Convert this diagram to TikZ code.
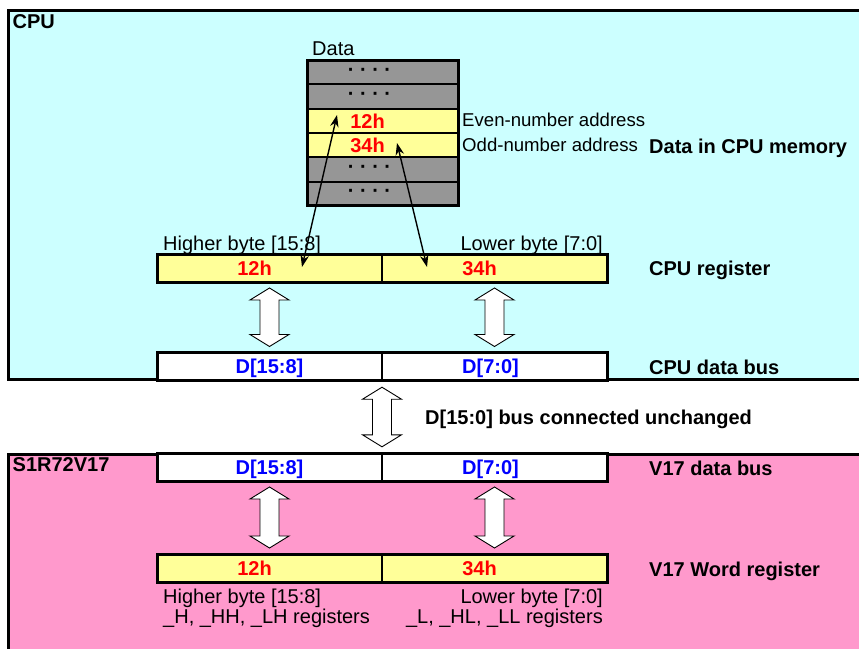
\documentclass[tikz,border=0pt]{standalone}
\usepackage{fontspec}
\setmainfont{Liberation Sans}
\usetikzlibrary{calc,arrows.meta}
\definecolor{cpubg}{HTML}{CCFFFF}
\definecolor{vbg}{HTML}{FF99CC}
\definecolor{regy}{HTML}{FFFF99}
\definecolor{memgray}{HTML}{969696}
\definecolor{valred}{HTML}{FF0000}
\definecolor{busblue}{HTML}{0000FF}
\newcommand{\blkarrow}[4]{% #1 top point, #2 bottom point, #3 gap top, #4 gap bottom
  \path (#1) ++(0,#3) coordinate (bt) (#2) ++(0,-#4) coordinate (bb);
  \draw[blk] (bt) -- ($(bt)+(19.5,12)$) -- ($(bt)+(9.5,12)$) -- ($(bb)+(9.5,-12)$)
    -- ($(bb)+(19.5,-12)$) -- (bb) -- ($(bb)+(-19.5,-12)$) -- ($(bb)+(-9.5,-12)$)
    -- ($(bt)+(-9.5,12)$) -- ($(bt)+(-19.5,12)$) -- cycle;}
\newcommand{\lft}[2]{#1\hspace*{#2pt}}
\begin{document}
\begin{tikzpicture}[x=1pt,y=-1pt,
  frame/.style={line width=3pt},
  cell/.style={draw, line width=1.5pt, minimum width=225pt, minimum height=28pt,
    inner sep=0pt, outer sep=0pt, text depth=0pt, font=\fontsize{20}{24}\selectfont\bfseries},
  memrow/.style={draw, line width=2pt, minimum width=151pt, minimum height=24.33pt,
    inner sep=0pt, outer sep=0pt, text depth=0pt, font=\fontsize{20}{24}\selectfont\bfseries},
  bold/.style={anchor=base west, inner sep=0pt, font=\fontsize{20}{24}\selectfont\bfseries},
  reg/.style={anchor=base west, inner sep=0pt, font=\fontsize{20}{24}\selectfont},
  regr/.style={anchor=base east, inner sep=0pt, font=\fontsize{20}{24}\selectfont},
  small/.style={anchor=base west, inner sep=0pt, font=\fontsize{18.6}{22}\selectfont},
  blk/.style={draw, fill=white, line width=0.9pt, line join=miter},
  ptr/.style={draw, line width=1.4pt, {Stealth[length=12pt,width=8.5pt]}-{Stealth[length=12pt,width=8.5pt]}}
]
\useasboundingbox (0,0) rectangle (859,648);
\clip (0,0) rectangle (859,648);
% backgrounds
\fill[cpubg] (8.5,10.5) rectangle (870,379.5);
\draw[frame] (870,10.5) -- (8.5,10.5) -- (8.5,379.5) -- (870,379.5);
\fill[vbg] (8.5,454) rectangle (870,660);
\draw[frame] (870,454) -- (8.5,454) -- (8.5,660);
\node[bold] (cpu) at (12.5,28.3) {CPU};
\node[bold] (s1r) at (12.5,471.7) {S1R72V17};
% memory
\node[reg] (data) at (312,55) {Data};
\node[memrow, fill=memgray] (m1) at (382.5,72.2) {\lft{· · · ·}{26}};
\node[memrow, fill=memgray] (m2) at (382.5,96.5) {\lft{· · · ·}{26}};
\node[memrow, fill=regy, text=valred] (m3) at (382.5,120.8) {\lft{12h}{30}};
\node[memrow, fill=regy, text=valred] (m4) at (382.5,145.2) {\lft{34h}{30}};
\node[memrow, fill=memgray] (m5) at (382.5,169.5) {\lft{· · · ·}{26}};
\node[memrow, fill=memgray] (m6) at (382.5,193.8) {\lft{· · · ·}{26}};
\draw[frame] (m1.north west) rectangle (m6.south east);
\node[small] (even) at (462,126.7) {Even-number address};
\node[small] (odd) at (462,151.7) {Odd-number address};
\node[bold] (lmem) at (649,153.3) {Data in CPU memory};
% CPU register
\node[reg] (hb1) at (163,250) {Higher byte [15:8]};
\node[regr] (lb1) at (603,250) {Lower byte [7:0]};
\node[cell, fill=regy, text=valred] (cr1) at (269.5,268) {\lft{12h}{30}};
\node[cell, fill=regy, text=valred] (cr2) at (494.5,268) {\lft{34h}{30}};
\draw[frame] (cr1.north west) rectangle (cr2.south east);
\node[bold] (lreg) at (649,275.7) {CPU register};
% CPU data bus
\node[cell, fill=white, text=busblue] (cb1) at (269.5,366.5) {D[15:8]};
\node[cell, fill=white, text=busblue] (cb2) at (494.5,366.5) {\lft{D[7:0]}{8}};
\draw[frame] (cb1.north west) rectangle (cb2.south east);
\node[bold] (lcbus) at (649,374.5) {CPU data bus};
% V17 data bus
\node[cell, fill=white, text=busblue] (vb1) at (269.5,467.5) {D[15:8]};
\node[cell, fill=white, text=busblue] (vb2) at (494.5,467.5) {\lft{D[7:0]}{8}};
\draw[frame] (vb1.north west) rectangle (vb2.south east);
\node[bold] (lvbus) at (649,475) {V17 data bus};
% V17 word register
\node[cell, fill=regy, text=valred] (vr1) at (269.5,568.5) {\lft{12h}{30}};
\node[cell, fill=regy, text=valred] (vr2) at (494.5,568.5) {\lft{34h}{30}};
\draw[frame] (vr1.north west) rectangle (vr2.south east);
\node[bold] (lvreg) at (649,576) {V17 Word register};
\node[reg] (hb2) at (163,603) {Higher byte [15:8]};
\node[reg] (hr2) at (163,623.3) {\_H, \_HH, \_LH registers};
\node[regr] (lb2) at (603,603) {Lower byte [7:0]};
\node[regr] (lr2) at (603,623.3) {\_L, \_HL, \_LL registers};
% middle label
\node[bold] (mid) at (425,424) {D[15:0] bus connected unchanged};
% block arrows
\blkarrow{cr1.south}{cb1.north}{6}{6}
\blkarrow{cr2.south}{cb2.north}{6}{6}
\blkarrow{cb1.south east}{vb1.north east}{6.7}{6.7}
\blkarrow{vb1.south}{vr1.north}{5.5}{6.5}
\blkarrow{vb2.south}{vr2.north}{5.5}{6.5}
% pointer arrows
\draw[ptr] ($(cr1.center)+(32.5,-1)$) -- ($(m3.center)+(-45.5,-5.8)$);
\draw[ptr] ($(cr2.center)+(-67.5,-1)$) -- ($(m4.center)+(14.5,-2.2)$);
\end{tikzpicture}
\end{document}
